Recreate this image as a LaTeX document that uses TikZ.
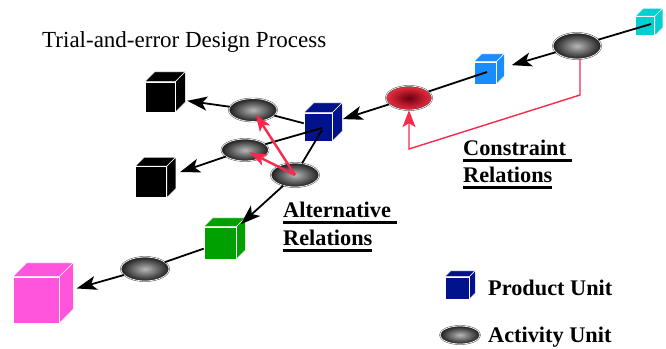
\documentclass[tikz,border=0pt]{standalone}
\usepackage{fontspec}
\setmainfont{Liberation Serif}
\usetikzlibrary{shapes.geometric, arrows.meta}

\definecolor{navyunit}{RGB}{0,18,140}
\definecolor{skyunit}{RGB}{25,140,255}
\definecolor{cyanunit}{RGB}{0,208,210}
\definecolor{greenunit}{RGB}{0,160,0}
\definecolor{pinkunit}{RGB}{255,85,220}
\definecolor{relred}{RGB}{250,40,75}

% souligne gras
\newcommand{\ulbox}[1]{\setbox0\hbox{#1}\rlap{\rule[-7pt]{\wd0}{2.8pt}}\box0}

\tikzset{
  cube/.style 2 args={rectangle, inner sep=0pt, fill=#1, draw=white, line width=0.6pt,
    append after command={\pgfextra{\let\cubenm\tikzlastnode
      \begin{pgfinterruptpath}
      \filldraw[fill=#1, draw=white, line width=0.6pt]
        (\cubenm.north west) -- ++(#2,-#2) -- ([shift={(#2,-#2)}]\cubenm.north east)
        -- (\cubenm.north east) -- cycle;
      \filldraw[fill=#1, draw=white, line width=0.6pt]
        (\cubenm.north east) -- ++(#2,-#2) -- ([shift={(#2,-#2)}]\cubenm.south east)
        -- (\cubenm.south east) -- cycle;
      \end{pgfinterruptpath}}}},
  act/.style={ellipse, inner sep=0pt, minimum width=48pt, minimum height=24pt,
    inner color=black!28, outer color=black!88, draw=black!80, double=white,
    line width=0.4pt, double distance=0.7pt},
  redact/.style={act, inner color={rgb,255:red,105;green,0;blue,15},
    outer color={rgb,255:red,238;green,45;blue,65}},
  link/.style={line width=1.8pt},
  flow/.style={link, -{Stealth[length=20pt, width=14pt, inset=5pt]}},
  alt/.style={relred, line width=2.4pt, -{Stealth[length=17pt, width=12pt, inset=4pt]}},
  con/.style={relred, line width=1.4pt, -{Stealth[length=17pt, width=13pt, inset=4pt]}},
  lbl/.style={anchor=base west, inner sep=0pt, font=\fontsize{22.3}{27}\selectfont\bfseries}
}

\begin{document}
\begin{tikzpicture}[x=1pt, y=-1pt]

  \useasboundingbox (0,0) rectangle (666,348);

  % Titre
  \node[anchor=base west, inner sep=0pt, font=\fontsize{23}{27}\selectfont] (title) at (42,47)
    {Trial-and-error Design Process};

  % Unites produit
  \node[cube={cyanunit}{8}, minimum size=19pt] (c1) at (645,26) {};
  \node[cube={skyunit}{8}, minimum size=22pt] (c2) at (485,73) {};
  \node[cube={navyunit}{10}, minimum size=28pt] (c3) at (318,127) {};
  \node[cube={black}{10}, minimum size=30pt] (k1) at (160,97) {};
  \node[cube={black}{9}, minimum size=31pt] (k2) at (151,182) {};
  \node[cube={greenunit}{9}, minimum size=32pt] (g) at (220,243) {};
  \node[cube={pinkunit}{14}, minimum size=46pt] (m) at (36,300) {};

  % Unites activite
  \node[act, minimum height=26pt] (a1) at (577,46) {};
  \node[redact, minimum width=46pt] (r) at (409,98) {};
  \node[act, minimum height=23pt] (eA) at (253,110) {};
  \node[act, minimum width=47pt, minimum height=22pt] (eB) at (245,150) {};
  \node[act] (eC) at (295,175) {};
  \node[act] (eD) at (145,269) {};

  % Liens
  \draw[link] ([shift={(6,-2)}]c1.center) -- (a1);
  \draw[flow, shorten >=16pt] (a1) -- (c2);
  \draw[link] ([shift={(2,-1)}]c2.center) -- (r);
  \draw[flow, shorten >=11pt] (r) -- (c3);
  \draw[link] (c3) -- (eA);
  \draw[link] ([shift={(4,1)}]c3.center) -- (eB);
  \draw[link] ([shift={(4,3)}]c3.center) -- (eC);
  \draw[flow, shorten >=12pt] (eA) -- (k1);
  \draw[flow, shorten >=14pt] (eB) -- (k2);
  \draw[flow, shorten >=6pt] (eC) -- (g);
  \draw[link] (g) -- (eD);
  \draw[flow, shorten >=18pt] (eD) -- (m);

  % Relations alternatives
  \draw[alt, shorten >=5pt] (eC.center) -- (eA.center);
  \draw[alt, shorten >=5pt] (eC.center) -- (eB.center);

  % Relation de contrainte
  \coordinate (k1c) at (580,95);
  \coordinate (k2c) at (409,149);
  \draw[con] (a1.south -| k1c) -- (k1c) -- (k2c) -- (r.south);

  % Etiquettes
  \node[lbl] (conA) at (463,155) {\ulbox{Constraint\ }};
  \node[lbl] (conB) at (463,182) {\ulbox{Relations}};
  \node[lbl] (altA) at (283,217) {\ulbox{Alternative\ }};
  \node[lbl] (altB) at (283,245) {\ulbox{Relations}};

  % Legende
  \node[cube={navyunit}{6}, minimum width=24pt, minimum height=22pt] (lp) at (457,288) {};
  \node[act, minimum width=40pt, minimum height=18pt] (la) at (460,335) {};
  \node[lbl] (lpt) at (488,295) {Product Unit};
  \node[lbl] (lat) at (488,342) {Activity Unit};

\end{tikzpicture}
\end{document}
